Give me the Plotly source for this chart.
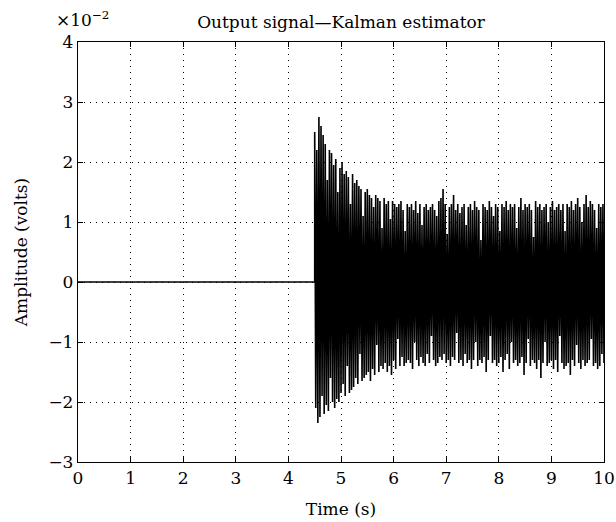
import plotly.graph_objects as go

# Quiet part of the output (before the estimator kicks in), time in s, amplitude in 1e-2 V
quiet_time = [0.0, 4.5]
quiet_amp = [0.0, 0.0]

# Active part: sampled every 0.02 s from 4.50 s to 10.00 s (amplitude in 1e-2 V)
active_start = 4.5
sample_step = 0.02
active_amp = [
    2.50, -2.10, 2.20, -2.35, 2.75, -2.25, 2.60, -1.90, 2.45, -2.20,
    2.30, -2.05, 1.70, -2.15, 2.20, -1.60, 2.15, -2.00, 1.95, -2.10,
    2.05, -1.95, 1.50, -2.00, 1.90, -1.85, 2.00, -1.70, 1.80, -1.90,
    1.85, -1.40, 1.75, -1.85, 1.30, -1.80, 1.80, -1.75, 1.65, -1.60,
    1.70, -1.70, 1.60, -1.20, 1.55, -1.65, 1.10, -1.60, 1.50, -1.55,
    1.55, -1.50, 1.45, -1.65, 1.40, -1.45, 1.25, -1.55, 1.45, -1.05,
    1.40, -1.50, 1.35, -1.40, 0.90, -1.45, 1.40, -1.35, 1.30, -1.50,
    1.35, -1.40, 1.05, -1.55, 1.35, -1.30, 1.30, -1.45, 1.25, -0.95,
    1.30, -1.40, 1.35, -1.25, 1.20, -1.40, 0.85, -1.35, 1.30, -1.30,
    1.25, -1.35, 1.30, -1.45, 1.20, -1.00, 1.35, -1.30, 1.15, -1.40,
    1.30, -1.25, 0.95, -1.35, 1.25, -1.40, 1.30, -1.20, 1.20, -1.35,
    1.25, -0.90, 1.30, -1.30, 1.20, -1.40, 1.10, -1.35, 1.35, -1.25,
    1.40, -1.30, 1.55, -1.20, 1.30, -1.35, 0.80, -1.30, 1.25, -1.40,
    1.30, -1.25, 1.45, -1.30, 1.20, -0.85, 1.30, -1.35, 1.15, -1.30,
    1.25, -1.40, 1.30, -1.20, 0.95, -1.35, 1.25, -1.30, 1.30, -1.45,
    1.20, -1.30, 1.35, -1.00, 1.25, -1.40, 1.20, -1.30, 0.70, -1.35,
    1.30, -1.25, 1.25, -1.50, 1.20, -1.30, 1.35, -0.90, 1.25, -1.35,
    1.10, -1.30, 1.30, -1.40, 1.25, -1.35, 0.85, -1.25, 1.30, -1.50,
    1.25, -1.30, 1.35, -1.20, 1.20, -1.45, 1.30, -1.00, 1.25, -1.35,
    1.30, -1.30, 0.90, -1.40, 1.25, -1.35, 1.40, -1.25, 1.20, -1.55,
    1.30, -1.35, 1.25, -0.95, 1.30, -1.40, 1.20, -1.30, 0.75, -1.35,
    1.35, -1.45, 1.25, -1.30, 1.30, -1.60, 1.20, -1.35, 1.25, -1.00,
    1.30, -1.40, 1.00, -1.35, 1.25, -1.30, 1.35, -1.45, 1.20, -1.30,
    1.25, -1.50, 1.30, -0.90, 1.20, -1.35, 1.30, -1.45, 0.85, -1.40,
    1.30, -1.35, 1.25, -1.55, 1.35, -1.30, 1.20, -1.40, 1.30, -1.05,
    1.40, -1.35, 1.25, -1.45, 1.00, -1.30, 1.30, -1.40, 1.45, -1.35,
    1.25, -1.30, 1.35, -0.95, 1.30, -1.40, 1.20, -1.35, 0.90, -1.45,
    1.30, -1.40, 1.25, -1.20, 1.30, -1.35,
]
active_time = [active_start + i * sample_step for i in range(len(active_amp))]

x_ticks = [0, 1, 2, 3, 4, 5, 6, 7, 8, 9, 10]
y_ticks = [-3, -2, -1, 0, 1, 2, 3, 4]
y_tick_text = ["\u22123", "\u22122", "\u22121", "0", "1", "2", "3", "4"]

time = quiet_time + active_time
amp = quiet_amp + active_amp

font_family = "DejaVu Serif, Liberation Serif, serif"
fsize = 17

fig = go.Figure()
fig.add_trace(go.Scatter(
    x=time, y=amp, mode="lines",
    line=dict(color="black", width=1.6),
    showlegend=False, hoverinfo="skip",
))

axis_common = dict(
    showline=True, linecolor="black", linewidth=1.3, mirror="ticks",
    ticks="inside", ticklen=5, tickcolor="black", tickwidth=1,
    showgrid=True, gridcolor="black", gridwidth=1, griddash="1px,5px",
    zeroline=False, automargin=False,
    tickfont=dict(family=font_family, size=fsize, color="black"),
)

fig.update_xaxes(
    range=[0, 10], tickvals=x_ticks,
    title=dict(text="Time (s)", font=dict(family=font_family, size=fsize, color="black"), standoff=16),
    **axis_common,
)
fig.update_yaxes(
    range=[-3, 4], tickvals=y_ticks, ticktext=y_tick_text,
    title=dict(text="Amplitude (volts)", font=dict(family=font_family, size=fsize, color="black"), standoff=16),
    **axis_common,
)

fig.update_layout(
    width=616, height=522,
    margin=dict(l=78, r=12, t=42, b=60),
    paper_bgcolor="white", plot_bgcolor="white",
    title=dict(
        text="Output signal\u2014Kalman estimator",
        font=dict(family=font_family, size=fsize, color="black"),
        x=0.5, xref="paper", xanchor="center", y=1 - 22 / 522, yref="container", yanchor="middle",
    ),
    annotations=[dict(
        text="\u00d710<sup>\u22122</sup>", xref="paper", yref="paper",
        x=-0.046, y=1.025, xanchor="left", yanchor="bottom", showarrow=False,
        font=dict(family=font_family, size=fsize, color="black"),
    )],
)

fig.write_html(
    "out.html",
    config={"displayModeBar": False},
    post_script="document.body.style.margin='0';document.body.style.overflow='hidden';",
)
